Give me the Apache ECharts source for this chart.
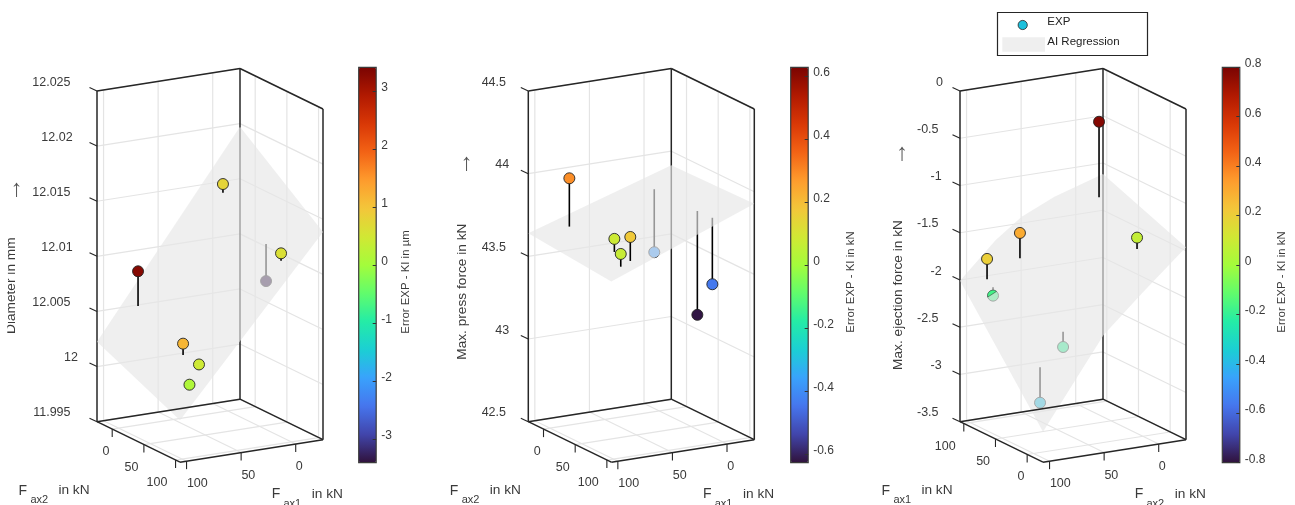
<!DOCTYPE html>
<html>
<head>
<meta charset="utf-8">
<style>html,body{margin:0;padding:0;background:#fff;overflow:hidden}#c{width:1295px;height:505px}</style>
<script src="https://cdn.jsdelivr.net/npm/echarts@6/dist/echarts.min.js"></script>
</head>
<body>
<div id="c"></div>
<script>
// ---------- data ----------
const fax1Values = [77.8, 79.1, 78.5, 88.8, 4.2, 3.8, 4.3];
const fax2Values = [-7.8, 65.5, 89.6, 92.3, -0.6, 90.4, 67.6];
const ejectFax2Values = [-5, 66.7, 91.7, 91.2, 2.9, 92, 70.6];

const diameterExp = [12.00866, 12.00417, 12.00295, 12.00135, 12.01563, 12.01189, 12.00874];
const diameterKI = [12.00551, 12.00314, 12.00249, 12.00123, 12.01485, 12.01122, 12.0121];
const diameterError = [3.3, 1.15, 0.45, 0.12, 0.78, 0.62, -3.36];

const pressExp = [43.973, 43.745, 43.801, 43.714, 43.463, 43.439, 43.212];
const pressKI = [43.681, 43.666, 43.656, 43.637, 43.844, 43.841, 43.84];
const pressError = [0.29, 0.08, 0.17, 0.07, -0.38, -0.44, -0.62];

const ejectExp = [-0.435, -1.486, -2.102, -1.748, -1.406, -2.99, -2.441];
const ejectKI = [-1.235, -1.754, -2.014, -1.963, -1.526, -2.615, -2.279];
const ejectError = [0.78, 0.3, -0.17, 0.2, 0.08, -0.38, -0.2];

const surfDiameterFax1 = [106, -25, -25, 106];
const surfDiameterFax2 = [-24, -24, 107, 107];
const surfDiameter = [12.00226, 12.01972, 12.01385, 11.99881];

const surfPressFax1 = [106, -25, -25, 106];
const surfPressFax2 = [-24, -24, 107, 107];
const surfPress = [43.639, 43.915, 43.927, 43.593];

const surfEjectFax1 = [106, 106, 106, 106, 106, -25, -25, -25, -25];
const surfEjectFax2 = [106, 73.25, 49.5, 19.5, -25, -25, 15.3, 50.5, 106];
const surfEject = [-2.008, -1.636, -1.433, -1.276, -1.117, -1.464, -1.877, -2.255, -3.177];

const forceTicks = [0, 50, 100];
const diameterTicks = ['11.995', '12', '12.005', '12.01', '12.015', '12.02', '12.025'];
const pressTicks = ['42.5', '43', '43.5', '44', '44.5'];
const ejectTicks = ['-3.5', '-3', '-2.5', '-2', '-1.5', '-1', '-0.5', '0'];

const diameterBarTicks = [-3, -2, -1, 0, 1, 2, 3];
const pressBarTicks = [-0.6, -0.4, -0.2, 0, 0.2, 0.4, 0.6];
const ejectBarTicks = [-0.8, -0.6, -0.4, -0.2, 0, 0.2, 0.4, 0.6, 0.8];

const turboColors = ['#30123b','#4145ab','#4675ed','#39a2fc','#1bcfd4','#24eca6','#61fc6c','#a4fc3b','#d1e834','#f3c63a','#fe9b2d','#f36315','#d93806','#b11901','#7a0402'];

// ---------- layout / style ----------
const FONT = '"Liberation Sans", Arial, sans-serif';
const INK = '#3a3a3a', EDGE = '#262626', GRID = '#e4e4e4';
const SPAN = 131;            // width of the force axes in kN
const PX = {w:226, h:394.5, wallDx:143, floorDx:83, wallDy:22.5, floorDy:40.5, z:330.7, base:40.8};

const panels = [
 {left:97, zTicks:diameterTicks, pField:0, pStart:106, qField:1, qStart:-24, qDir:1,
  fax1:fax1Values, fax2:fax2Values, exp:diameterExp, ki:diameterKI, err:diameterError,
  sf1:surfDiameterFax1, sf2:surfDiameterFax2, sv:surfDiameter,
  bar:{left:358.7, range:3.41, ticks:diameterBarTicks, title:'Error EXP - KI in µm', titleX:405.7},
  yTitle:'Diameter in mm', yTitleX:11.5, yTitleY:285.7, arrow:[16.7,189], leftName:'ax2', rightName:'ax1'},
 {left:528.3, zTicks:pressTicks, pField:0, pStart:106, qField:1, qStart:-24, qDir:1,
  fax1:fax1Values, fax2:fax2Values, exp:pressExp, ki:pressKI, err:pressError,
  sf1:surfPressFax1, sf2:surfPressFax2, sv:surfPress,
  bar:{left:790.7, range:0.627, ticks:pressBarTicks, title:'Error EXP - KI in kN', titleX:851},
  yTitle:'Max. press force in kN', yTitleX:462.5, yTitleY:291.7, arrow:[466.7,163], leftName:'ax2', rightName:'ax1'},
 {left:960, zTicks:ejectTicks, pField:1, pStart:106, qField:0, qStart:106, qDir:-1,
  fax1:fax1Values, fax2:ejectFax2Values, exp:ejectExp, ki:ejectKI, err:ejectError,
  sf1:surfEjectFax1, sf2:surfEjectFax2, sv:surfEject,
  bar:{left:1222.3, range:0.8, ticks:ejectBarTicks, title:'Error EXP - KI in kN', titleX:1282.3},
  yTitle:'Max. ejection force in kN', yTitleX:898.5, yTitleY:295, arrow:[902.3,153], leftName:'ax1', rightName:'ax2', piercing:[2]}
];

panels.forEach(P => { P.zMin = +P.zTicks[0]; P.zMax = +P.zTicks[P.zTicks.length-1]; });

// cube coordinates (0..1) from data values
const pOf = (P, row) => (P.pStart - row[P.pField]) / SPAN;
const qOf = (P, row) => P.qDir * (row[P.qField] - P.qStart) / SPAN;
const tOf = (P, z) => (z - P.zMin) / (P.zMax - P.zMin);
// axis coordinates of the hidden 2D cartesian that carries the view
const view = (p, q, t) => [
  (PX.wallDx*p + PX.floorDx*q) / PX.w,
  (PX.base + PX.wallDy*p - PX.floorDy*q + PX.z*t) / PX.h
];
const lineEl = (a, b, color, width) => ({type:'line', silent:true,
  shape:{x1:a[0], y1:a[1], x2:b[0], y2:b[1]}, style:{stroke:color, lineWidth:width, lineCap:'butt'}});

const series = [], grids = [], xAxes = [], yAxes = [], maps = [], graphics = [];

function cubeLines(name, gi, rows, color, width, z){
  series.push({type:'custom', name, coordinateSystem:'cartesian2d', xAxisIndex:gi, yAxisIndex:gi, z, silent:true, animation:false,
    data: rows,
    renderItem:(params, api) => lineEl(
      api.coord(view(api.value(0), api.value(1), api.value(2))),
      api.coord(view(api.value(3), api.value(4), api.value(5))), color, width)});
}

panels.forEach((P, gi) => {
  grids.push({left:P.left, top:68, width:PX.w, height:PX.h, show:false});
  xAxes.push({type:'value', gridIndex:gi, min:0, max:1, show:false});
  yAxes.push({type:'value', gridIndex:gi, min:0, max:1, show:false});
});

panels.forEach((P, gi) => {
  const pTicks = forceTicks.map(v => { const r=[0,0]; r[P.pField]=v; return pOf(P,r); });
  const qTicks = forceTicks.map(v => { const r=[0,0]; r[P.qField]=v; return qOf(P,r); });
  const zT = P.zTicks.map(s => tOf(P, +s));

  // walls and floor grid
  const gridRows = [];
  zT.forEach(t => { gridRows.push([0,0,t,1,0,t],[1,0,t,1,1,t]); });
  pTicks.forEach(p => { gridRows.push([p,0,0,p,0,1],[p,0,0,p,1,0]); });
  qTicks.forEach(q => { gridRows.push([1,q,0,1,q,1],[0,q,0,1,q,0]); });
  cubeLines('grid', gi, gridRows, GRID, 1.2, 1);

  // back of the box
  cubeLines('box', gi, [[0,0,1,1,0,1],[1,0,1,1,1,1],[0,0,0,0,0,1],[1,1,0,1,1,1],[1,0,0,1,0,1]], EDGE, 1.5, 2);

  // measured points
  const rows = P.exp.map((v,i) => [P.fax1[i], P.fax2[i], v, P.err[i], P.ki[i]]);
  const pointSeries = (subset, z) => {
    series.push({type:'custom', name:'EXP', coordinateSystem:'cartesian2d', xAxisIndex:gi, yAxisIndex:gi, z, silent:true, animation:false,
      data: subset,
      renderItem:(params, api) => {
        const r = [api.value(0), api.value(1)];
        const p = pOf(P,r), q = qOf(P,r);
        const a = api.coord(view(p,q,tOf(P,api.value(2))));
        const b = api.coord(view(p,q,tOf(P,api.value(4))));
        return {type:'group', children:[
          lineEl(a, b, '#000', 1.6),
          {type:'circle', silent:true, shape:{cx:a[0], cy:a[1], r:5.5}, style:{fill:api.visual('color'), stroke:'#222', lineWidth:0.9}}
        ]};
      }});
    return series.length-1;
  };
  const below = pointSeries(rows.filter(r => r[2] < r[4]), 3);

  // regression surface
  const surfRows = P.sv.map((v,i) => [P.sf1[i], P.sf2[i], v]);
  series.push({type:'custom', name:'AI Regression', coordinateSystem:'cartesian2d', xAxisIndex:gi, yAxisIndex:gi, z:4, silent:true, animation:false,
    data: surfRows,
    renderItem:(params, api) => {
      if (params.dataIndex !== 0) return null;
      const pts = surfRows.map(r => api.coord(view(pOf(P,r), qOf(P,r), tOf(P,r[2]))));
      return {type:'polygon', silent:true, shape:{points:pts}, style:{fill:'#e6e6e6', opacity:0.65}};
    }});

  // floor edges of the box sit above the surface
  cubeLines('floor', gi, [[0,0,0,1,0,0],[1,0,0,1,1,0],[0,0,0,0,1,0],[0,1,0,1,1,0]], EDGE, 1.5, 5);

  const above = pointSeries(rows.filter(r => r[2] >= r[4]), 6);

  // a marker that straddles the surface: only its upper-left cap pokes through
  const piercing = (P.piercing || []).map(i => rows[i]);
  series.push({type:'custom', name:'EXP', coordinateSystem:'cartesian2d', xAxisIndex:gi, yAxisIndex:gi, z:6, silent:true, animation:false,
    data: piercing,
    renderItem:(params, api) => {
      const r = [api.value(0), api.value(1)];
      const a = api.coord(view(pOf(P,r), qOf(P,r), tOf(P,api.value(2))));
      const pts = [];
      for (let d = 165; d <= 320; d += 12) {
        const ang = d*Math.PI/180;
        pts.push([a[0]+5.5*Math.cos(ang), a[1]+5.5*Math.sin(ang)]);
      }
      return {type:'polygon', silent:true, shape:{points:pts}, style:{fill:api.visual('color'), stroke:'#222', lineWidth:0.5}};
    }});
  const cap = series.length-1;

  // ticks and tick labels
  const labelRows = [];
  P.zTicks.forEach((s,i) => labelRows.push({p:0,q:0,t:zT[i],text:s,kind:'z'}));
  forceTicks.forEach((v,i) => labelRows.push({p:0,q:qTicks[i],t:0,text:String(v),kind:'q'}));
  forceTicks.forEach((v,i) => labelRows.push({p:pTicks[i],q:1,t:0,text:String(v),kind:'p'}));
  series.push({type:'custom', name:'ticks', coordinateSystem:'cartesian2d', xAxisIndex:gi, yAxisIndex:gi, z:7, silent:true, animation:false,
    data: labelRows.map((r,i) => [i]),
    renderItem:(params, api) => {
      const r = labelRows[params.dataIndex];
      const a = api.coord(view(r.p, r.q, r.t));
      const font = '12.5px ' + FONT;
      if (r.kind === 'z') {
        const w = r.text.split('').reduce((s,c) => s + (c==='.'?3.5:c==='-'?4.2:6.95), 0);
        return {type:'group', children:[
          lineEl(a, [a[0]-7.5, a[1]-3.5], EDGE, 1.1),
          {type:'text', silent:true, x:a[0]-15-0.3*w, y:a[1]-8.8, style:{text:r.text, font, fill:INK, align:'right', verticalAlign:'middle'}}
        ]};
      }
      const n = r.text.length;
      const dx = r.kind === 'q' ? -6.2*n : 3.6*n;
      return {type:'group', children:[
        lineEl(a, [a[0], a[1]+8], EDGE, 1.1),
        {type:'text', silent:true, x:a[0]+dx, y:a[1]+22.5, style:{text:r.text, font, fill:INK, align:'center', verticalAlign:'middle'}}
      ]};
    }});

  // colour bar: a visualMap for the gradient, a real axis for its ticks
  const bi = panels.length + gi;
  grids.push({left:P.bar.left, top:67.3, width:17.5, height:395.4, show:true, z:10, borderColor:'#3a3a3a', borderWidth:1.2, backgroundColor:'transparent'});
  xAxes.push({type:'value', gridIndex:bi, show:false, min:0, max:1});
  yAxes.push({type:'value', gridIndex:bi, position:'right', min:-P.bar.range, max:P.bar.range, z:11,
    splitLine:{show:false}, axisLine:{show:false, onZero:false},
    axisTick:{show:true, inside:true, length:3.5, lineStyle:{color:'#333', width:1}, customValues:P.bar.ticks},
    axisLabel:{show:true, customValues:P.bar.ticks, margin:5, fontSize:12, fontFamily:FONT, color:INK, verticalAlign:'bottom', lineHeight:7}});
  maps.push({type:'continuous', min:-P.bar.range, max:P.bar.range, dimension:3, seriesIndex:[below, above, cap],
    left:P.bar.left, top:67.3, itemWidth:17.5, itemHeight:395.4, padding:0, calculable:false, hoverLink:false,
    inRange:{color:turboColors}, text:null, textGap:0, z:5, showLabel:false});

  // axis names
  const txt = (x,y,text,size,extra) => graphics.push(Object.assign({type:'text', x, y, silent:true, z:20,
    style:{text, font:size+'px '+FONT, fill:INK, align:'center', verticalAlign:'middle'}}, extra||{}));
  txt(P.yTitleX, P.yTitleY, P.yTitle, 13.7, {rotation:Math.PI/2});
  txt(P.bar.titleX, 282, P.bar.title, 11.4, {rotation:Math.PI/2});
  graphics.push({type:'text', x:P.arrow[0], y:P.arrow[1], silent:true, z:20,
    style:{text:'↑', font:'24px '+FONT, fill:'#555', align:'center', verticalAlign:'middle'}});
  const L = P.left, R = P.left + PX.w;
  txt(L-74.3, 490.7, 'F', 14);
  txt(L-57.7, 500, P.leftName, 11);
  txt(L-23, 490.7, 'in kN', 13.7);
  txt(R-47, 494.3, 'F', 14);
  txt(R-30.7, 504, P.rightName, 11);
  txt(R+4.3, 494.3, 'in kN', 13.7);
});

// first y-axis title is cut off at the figure's clipping edge
graphics.push({type:'rect', silent:true, z:30, shape:{x:0,y:225,width:7.3,height:120}, style:{fill:'#fff'}});

// legend
graphics.push({type:'rect', silent:true, z:20, shape:{x:997.5,y:12.5,width:150,height:43}, style:{fill:'#fff', stroke:EDGE, lineWidth:1.2}});
graphics.push({type:'circle', silent:true, z:21, shape:{cx:1022.7,cy:25,r:4.6}, style:{fill:'#1bc0dc', stroke:'#222', lineWidth:0.8}});
graphics.push({type:'rect', silent:true, z:21, shape:{x:1002.3,y:37.3,width:42.7,height:14.4}, style:{fill:'#efefef'}});
graphics.push({type:'text', silent:true, z:21, x:1047.3, y:21.5, style:{text:'EXP', font:'11.5px '+FONT, fill:'#222', align:'left', verticalAlign:'middle'}});
graphics.push({type:'text', silent:true, z:21, x:1047.3, y:41.5, style:{text:'AI Regression', font:'11.5px '+FONT, fill:'#222', align:'left', verticalAlign:'middle'}});

const chart = echarts.init(document.getElementById('c'), null, {renderer:'canvas', width:1295, height:505});
chart.setOption({animation:false, backgroundColor:'#fff', grid:grids, xAxis:xAxes, yAxis:yAxes, visualMap:maps, series, graphic:graphics});
</script>
</body>
</html>
